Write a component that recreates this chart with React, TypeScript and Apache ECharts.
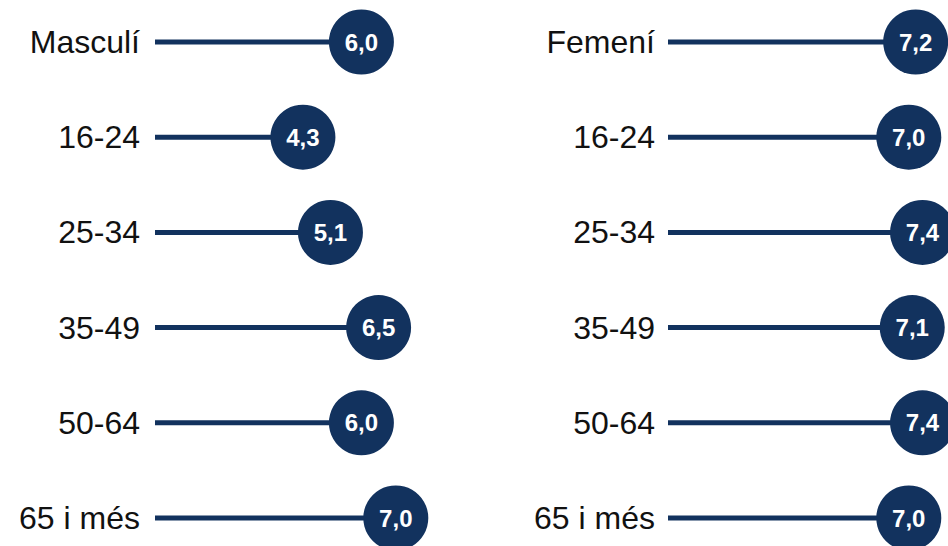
import React, { useEffect, useRef } from "react";
import * as echarts from "echarts";

const leftCategories = ["Masculí", "16-24", "25-34", "35-49", "50-64", "65 i més"];
const leftValues = [6.0, 4.3, 5.1, 6.5, 6.0, 7.0];
const rightCategories = ["Femení", "16-24", "25-34", "35-49", "50-64", "65 i més"];
const rightValues = [7.2, 7.0, 7.4, 7.1, 7.4, 7.0];

const NAVY = "#12325E";
const fmt = (v: number) => v.toFixed(1).replace(".", ",");

export default function App() {
  const ref = useRef<HTMLDivElement>(null);
  useEffect(() => {
    const chart = echarts.init(ref.current!, null, { renderer: "svg" });
    const yAxisBase = (gridIndex: number, data: string[], margin: number) => ({
      type: "category" as const,
      gridIndex,
      data,
      inverse: true,
      boundaryGap: false,
      axisLine: { show: false },
      axisTick: { show: false },
      splitLine: { show: false },
      axisLabel: {
        margin,
        color: "#111",
        fontSize: 32,
        fontFamily: "Liberation Sans, Arial, sans-serif",
      },
    });
    const labelStyle = {
      show: true,
      position: "inside" as const,
      color: "#fff",
      fontWeight: "bold" as const,
      fontSize: 24,
      fontFamily: "Liberation Sans, Arial, sans-serif",
      formatter: (p: any) => fmt(p.value),
    };
    chart.setOption({
      animation: false,
      grid: [
        { left: 155, top: 42, width: 344, height: 476 },
        { left: 668, top: 42, width: 280, height: 476 },
      ],
      xAxis: [
        { type: "value", gridIndex: 0, min: 0, max: 10, show: false },
        { type: "value", gridIndex: 1, min: 0, max: 8.14, show: false },
      ],
      yAxis: [yAxisBase(0, leftCategories, 15), yAxisBase(1, rightCategories, 13)],
      series: [
        {
          type: "bar",
          xAxisIndex: 0,
          yAxisIndex: 0,
          data: leftValues,
          barWidth: 5,
          itemStyle: { color: NAVY },
          silent: true,
        },
        {
          type: "scatter",
          xAxisIndex: 0,
          yAxisIndex: 0,
          data: leftValues,
          symbolSize: 65,
          itemStyle: { color: NAVY, opacity: 1 },
          label: labelStyle,
        },
        {
          type: "bar",
          xAxisIndex: 1,
          yAxisIndex: 1,
          data: rightValues,
          barWidth: 5,
          itemStyle: { color: NAVY },
          silent: true,
        },
        {
          type: "scatter",
          xAxisIndex: 1,
          yAxisIndex: 1,
          data: rightValues,
          symbolSize: 65,
          itemStyle: { color: NAVY, opacity: 1 },
          label: labelStyle,
        },
      ],
    });
    return () => chart.dispose();
  }, []);
  return (
    <div
      ref={ref}
      style={{ position: "fixed", left: 0, top: 0, width: 948, height: 546, background: "#fff" }}
    />
  );
}
